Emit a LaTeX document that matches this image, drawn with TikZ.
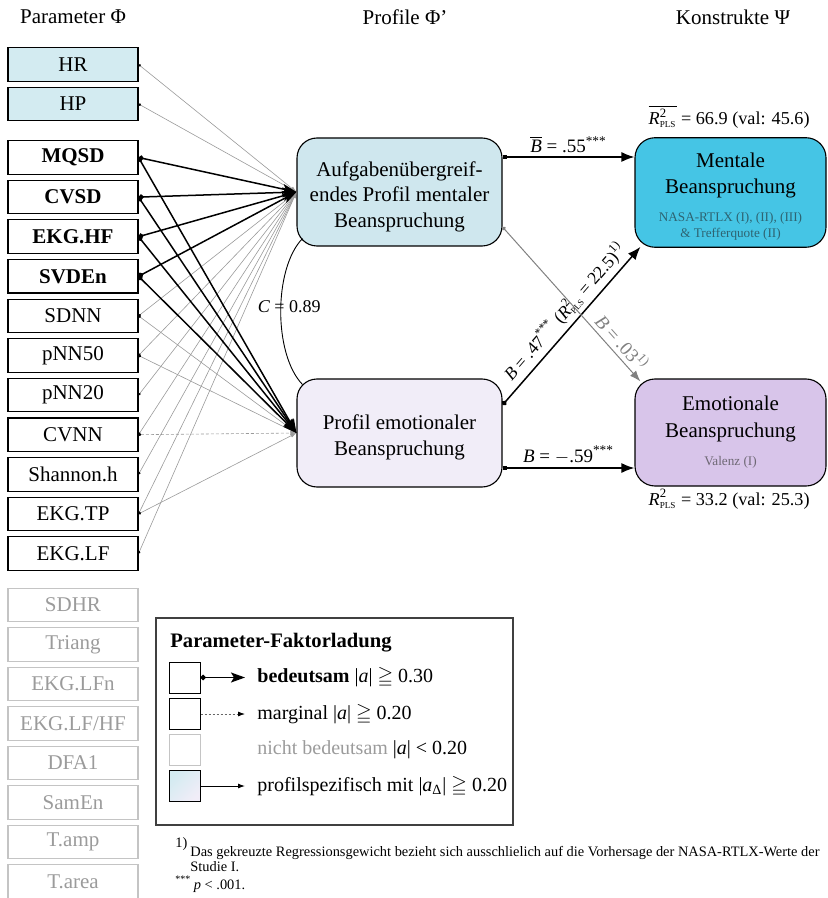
\documentclass[tikz,border=0pt]{standalone}
\usepackage{fontspec}
\setmainfont{Liberation Serif}
\usepackage{amsmath,amssymb}
\usetikzlibrary{arrows.meta}

\definecolor{paramcyan}{HTML}{D3EBF1}
\definecolor{mentprof}{HTML}{CFE7EE}
\definecolor{emoprof}{HTML}{F1EDF8}
\definecolor{mentcon}{HTML}{45C5E5}
\definecolor{emocon}{HTML}{D8C5EA}
\definecolor{faint}{HTML}{C4C4C4}
\definecolor{fainttext}{HTML}{9B9B9B}
\definecolor{thinline}{HTML}{9A9A9A}
\definecolor{nasatext}{HTML}{2E6472}
\definecolor{valtext}{HTML}{6E6874}

\newcommand\fsz[2]{\fontsize{#1}{#2}\selectfont}
\newcommand\subnote[1]{{\fsz{6.6}{7.8}\color{nasatext}#1}}
\newcommand\rplsq{\text{\textit{R}}^{\text{2}}_{\scriptscriptstyle\text{PLS}}}

\tikzset{
  par/.style={draw, line width=0.55pt, minimum width=65pt, minimum height=16.75pt,
    inner sep=0pt, font=\fsz{10.5}{12}},
  parsig/.style={par, font=\fsz{10.5}{12}\bfseries},
  parspec/.style={par, fill=paramcyan},
  paroff/.style={par, draw=faint, text=fainttext},
  profile/.style={draw, line width=0.55pt, rounded corners=10pt, minimum width=102.5pt,
    minimum height=54pt, align=center, font=\fsz{10.5}{12.8}},
  construct/.style={draw, line width=0.55pt, rounded corners=10pt, minimum width=95.5pt,
    minimum height=53.5pt, align=center, font=\fsz{10.5}{12.8}},
  strong/.style={line width=0.75pt, {Circle[length=2.6pt]}-{Stealth[length=7pt,width=5pt,inset=1.5pt]}},
  weak/.style={line width=0.3pt, draw=thinline, {Circle[length=1.3pt,color=black]}-{Latex[length=3pt,width=2pt]}},
  marg/.style={weak, dash pattern=on 1.5pt off 1pt},
  regr/.style={line width=0.75pt, {Square[length=2.4pt]}-{Latex[length=6.5pt,width=5pt]}},
  lbl/.style={font=\fsz{9.5}{11}, inner sep=1.5pt},
  head/.style={font=\fsz{10.5}{12}},
  rsq/.style={font=\fsz{9.1}{11}, anchor=east, inner sep=0pt},
  lbox/.style={draw, line width=0.5pt, minimum width=15.5pt, minimum height=15.5pt, inner sep=0pt},
  ltext/.style={anchor=west, font=\fsz{10}{12}, inner sep=0pt},
  foot/.style={anchor=base west, font=\fsz{7.2}{8.5}, inner sep=0pt}
}

\begin{document}
\begin{tikzpicture}[x=0.5pt,y=-0.5pt]
\useasboundingbox (0,0) rectangle (827,898);

% column headings
\node[head] (h1) at (73,17) {Parameter Φ};
\node[head] (h2) at (405,17) {Profile Φ'};
\node[head] (h3) at (733,17) {Konstrukte Ψ};

% parameter boxes
\node[parspec] (hr) at (73,64.5) {HR};
\node[parspec] (hp) at (73,104) {HP};
\node[parsig] (mqsd) at (73,157.5) {MQSD};
\node[parsig] (cvsd) at (73,197.1) {CVSD};
\node[parsig] (ekghf) at (73,236.7) {EKG.HF};
\node[parsig] (svden) at (73,276.3) {SVDEn};
\node[par] (sdnn) at (73,315.9) {SDNN};
\node[par] (pnnfifty) at (73,355.5) {pNN50};
\node[par] (pnntwenty) at (73,395.1) {pNN20};
\node[par] (cvnn) at (73,434.7) {CVNN};
\node[par] (shannon) at (73,474.3) {Shannon.h};
\node[par] (ekgtp) at (73,513.9) {EKG.TP};
\node[par] (ekglf) at (73,553.5) {EKG.LF};
\node[paroff] (sdhr) at (73,605) {SDHR};
\node[paroff] (triang) at (73,644.5) {Triang};
\node[paroff] (ekglfn) at (73,684) {EKG.LFn};
\node[paroff] (ekglfhf) at (73,723.5) {EKG.LF/HF};
\node[paroff] (dfa) at (73,763) {DFA1};
\node[paroff] (samen) at (73,802.5) {SamEn};
\node[paroff] (tamp) at (73,842) {T.amp};
\node[paroff] (tarea) at (73,881.5) {T.area};

% profiles
\node[profile, fill=mentprof] (mp) at (399.5,192)
  {\rule{0pt}{12pt}Aufgabenübergreif-\\endes Profil mentaler\\Beanspruchung};
\node[profile, fill=emoprof] (ep) at (399.5,433)
  {\rule{0pt}{11.5pt}Profil emotionaler\\Beanspruchung};

% constructs
\node[construct, fill=mentcon] (mk) at (730.5,192.5)
  {\rule{0pt}{11.7pt}Mentale\\Beanspruchung\\[1.5pt]\subnote{NASA-RTLX (I), (II), (III)}\\[-4.9pt]\subnote{\& Trefferquote (II)}};
\node[construct, fill=emocon] (ek) at (730.5,432.5)
  {Emotionale\\[0.5pt]Beanspruchung\\[1.5pt]{\fsz{6.6}{7.8}\color{valtext}Valenz (I)}};

\node[rsq] (rm) at (810,117) {$\overline{\rplsq}$ = 66.9 (val: 45.6)};
\node[rsq] (re) at (810,499) {$\rplsq$ = 33.2 (val: 25.3)};

% parameter loadings, weak ones first
\foreach \n in {hr,hp,sdnn,pnnfifty,pnntwenty,cvnn,shannon,ekgtp,ekglf}
  \draw[weak] (\n.east) -- (mp.west);
\foreach \n in {sdnn,pnnfifty,ekgtp}
  \draw[weak] (\n.east) -- (ep.west);
\draw[marg] (cvnn.east) -- (ep.west);
\foreach \n in {mqsd,cvsd,ekghf,svden} {
  \draw[strong] (\n.east) -- (mp.west);
  \draw[strong] (\n.east) -- (ep.west);
}

% correlation of the profiles
\draw[line width=0.45pt] ([xshift=3pt,yshift=4pt]mp.south west)
  .. controls +(-29,30) and +(-29,-30) .. ([xshift=3pt,yshift=-3pt]ep.north west)
  node[midway, xshift=4.25pt, yshift=2.25pt, font=\fsz{9}{11}] (corr) {\textit{C} = 0.89};

% regressions
\draw[regr] ([yshift=17.5pt]mp.east) --
  node[lbl, above] (bm) {$\overline{\text{\textit{B}}}$ = .55\textsuperscript{***}}
  ([yshift=17.5pt]mp.east -| mk.west);
\draw[regr] ([yshift=-17.5pt]ep.east) --
  node[lbl, above] (be) {\textit{B} = $-$.59\textsuperscript{***}}
  ([yshift=-17.5pt]ep.east -| ek.west);
\draw[line width=0.75pt, {Circle[length=2.6pt]}-{Latex[length=6.5pt,width=5pt]}]
  ([yshift=14pt]ep.east) --
  node[pos=0.53, sloped, above, font=\fsz{8.8}{11}, inner sep=2pt] (bx)
  {\textit{B} = .47\textsuperscript{***} ($\rplsq$ = 22.5)\textsuperscript{1)}}
  ([xshift=3pt,yshift=0.5pt]mk.south west);
\draw[line width=0.5pt, draw=black!50, {Circle[length=2pt,color=black!50]}-{Latex[length=5.5pt,width=4pt,color=black!50]}]
  ([yshift=-17.5pt]mp.east) --
  node[pos=0.8, sloped, above, font=\fsz{9.5}{12}, text=black!50, inner sep=2pt] (by)
  {\textit{B} = .03\textsuperscript{1)}}
  ([xshift=3pt,yshift=-1.5pt]ek.north west);

% legend
\node[draw=black!75, line width=0.6pt, minimum width=178.5pt, minimum height=103.5pt, inner sep=0pt] (legend) at (334.5,721.5) {};
\node[anchor=west, font=\fsz{10.3}{12}\bfseries, inner sep=0pt] (ltitle) at (170,643) {Parameter-Faktorladung};
\node[lbox] (lba) at (184.5,677.5) {};
\node[lbox] (lbb) at (184.5,714) {};
\node[lbox, draw=faint] (lbc) at (184.5,749.5) {};
\node[lbox, top color=paramcyan, bottom color=emoprof, shading angle=45] (lbd) at (184.5,786) {};
\coordinate (lea) at (245,677.5);
\coordinate (leb) at (245,714);
\coordinate (led) at (245,786);
\draw[strong] (lba.east) -- (lea);
\draw[line width=0.4pt, draw=black!60, dash pattern=on 1.2pt off 0.8pt, -{Latex[length=3.5pt,width=2.5pt,color=black]}] (lbb.east) -- (leb);
\draw[line width=0.45pt, -{Latex[length=3.5pt,width=2.5pt]}] (lbd.east) -- (led);
\node[ltext] (lta) at (257,677.5) {\textbf{bedeutsam} |\textit{a}| $\geqq$ 0.30};
\node[ltext] (ltb) at (257,714) {marginal |\textit{a}| $\geqq$ 0.20};
\node[ltext] (ltc) at (257,749.5) {\textcolor{fainttext}{nicht bedeutsam} |\textit{a}| < 0.20};
\node[ltext] (ltd) at (257,786) {profilspezifisch mit |\textit{a}\textsubscript{Δ}| $\geqq$ 0.20};

% footnotes
\node[foot] (fnmark) at (175,852) {\raisebox{2.5pt}{1)}};
\node[foot] (fna) at (190,856) {Das gekreuzte Regressionsgewicht bezieht sich ausschlielich auf die Vorhersage der NASA-RTLX-Werte der};
\node[foot] (fnb) at (190,871) {Studie I.};
\node[foot] (fnc) at (175,889) {\textsuperscript{***}\,\textit{p} < .001.};
\end{tikzpicture}
\end{document}
